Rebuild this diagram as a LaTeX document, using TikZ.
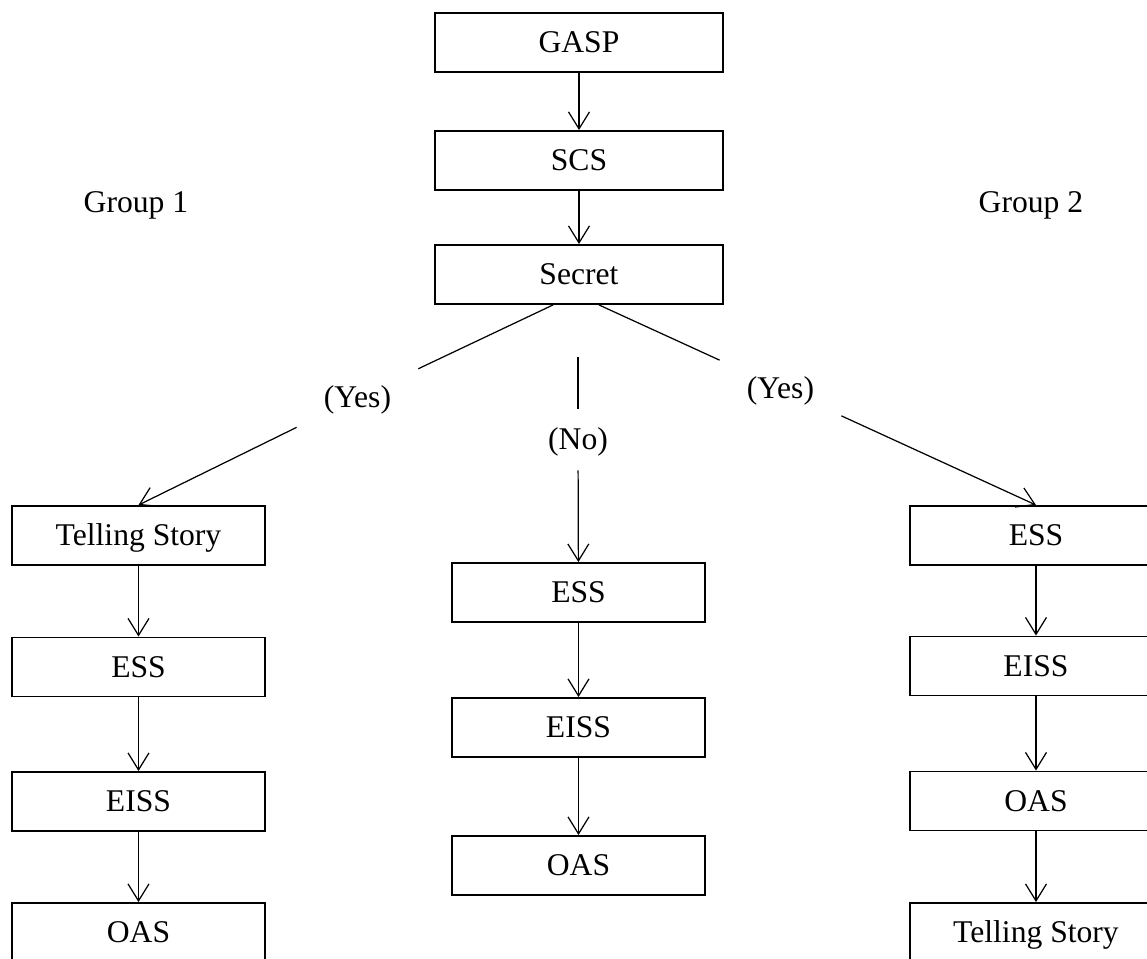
\documentclass[tikz,border=0pt]{standalone}
\usepackage{fontspec}
\setmainfont{Liberation Serif}
\usetikzlibrary{arrows.meta,calc}
\begin{document}
\begin{tikzpicture}[x=0.02cm,y=-0.02cm,
  every node/.style={font=\fontsize{18}{21}\selectfont},
  box/.style={draw,line width=1.1pt,minimum height=1.18cm,text height=11.8pt,text depth=0pt,inner sep=0pt},
  wbox/.style={box,minimum width=5.76cm},
  cbox/.style={box,minimum width=5.05cm},
  lbl/.style={inner sep=0pt,text height=11.8pt,text depth=0pt,minimum width=2.42cm,minimum height=1.2cm},
  conn/.style={line width=0.7pt},
  arr/.style={conn,-{Straight Barb[length=0.34cm,width=0.42cm,line width=0.7pt]}}]
\useasboundingbox (0,0) rectangle (1147,959);
\clip (0,0) rectangle (1147,959);
% top column
\node[wbox] (gasp) at (579,42.5) {GASP};
\node[wbox] (scs) at (579,160.5) {SCS};
\node[wbox] (secret) at (579,274.5) {Secret};
% group labels
\node[text height=11.8pt,text depth=0pt] (g1) at (136,202) {Group 1};
\node[text height=11.8pt,text depth=0pt] (g2) at (1031,202) {Group 2};
% branch labels
\node[lbl] (yes1) at (357.5,397.5) {(Yes)};
\node[lbl] (yes2) at (780.5,388) {(Yes)};
\node[lbl,minimum height=1.22cm,minimum width=1.5cm] (no) at (578,439.5) {(No)};
\coordinate (nostart) at (578,357);
% left column
\node[cbox] (tl) at (138.5,535.5) {Telling Story};
\node[cbox] (el) at (138.5,667) {ESS};
\node[cbox] (il) at (138.5,801.5) {EISS};
\node[cbox] (ol) at (138.5,932.5) {OAS};
% middle column
\node[cbox] (em) at (578.5,592.5) {ESS};
\node[cbox] (im) at (578.5,727.5) {EISS};
\node[cbox] (om) at (578.5,865.5) {OAS};
% right column
\node[cbox] (er) at (1036,535.5) {ESS};
\node[cbox] (ir) at (1036,666) {EISS};
\node[cbox] (or) at (1036,801) {OAS};
\node[cbox] (tr) at (1036,932.5) {Telling Story};
% connectors
\draw[arr] (gasp) -- (scs);
\draw[arr] (scs) -- (secret);
\draw[conn] ([xshift=-0.52cm]secret.south) -- (yes1);
\draw[arr] (yes1) -- (tl.north);
\draw[conn] ([xshift=0.4cm]secret.south) -- (yes2);
\draw[arr] (yes2) -- (er.north);
\draw[conn] (nostart) -- (no);
\draw[arr] (no) -- (em);
\draw[arr] (tl) -- (el);
\draw[arr] (el) -- (il);
\draw[arr] (il) -- (ol);
\draw[arr] (em) -- (im);
\draw[arr] (im) -- (om);
\draw[arr] (er) -- (ir);
\draw[arr] (ir) -- (or);
\draw[arr] (or) -- (tr);
\end{tikzpicture}
\end{document}
